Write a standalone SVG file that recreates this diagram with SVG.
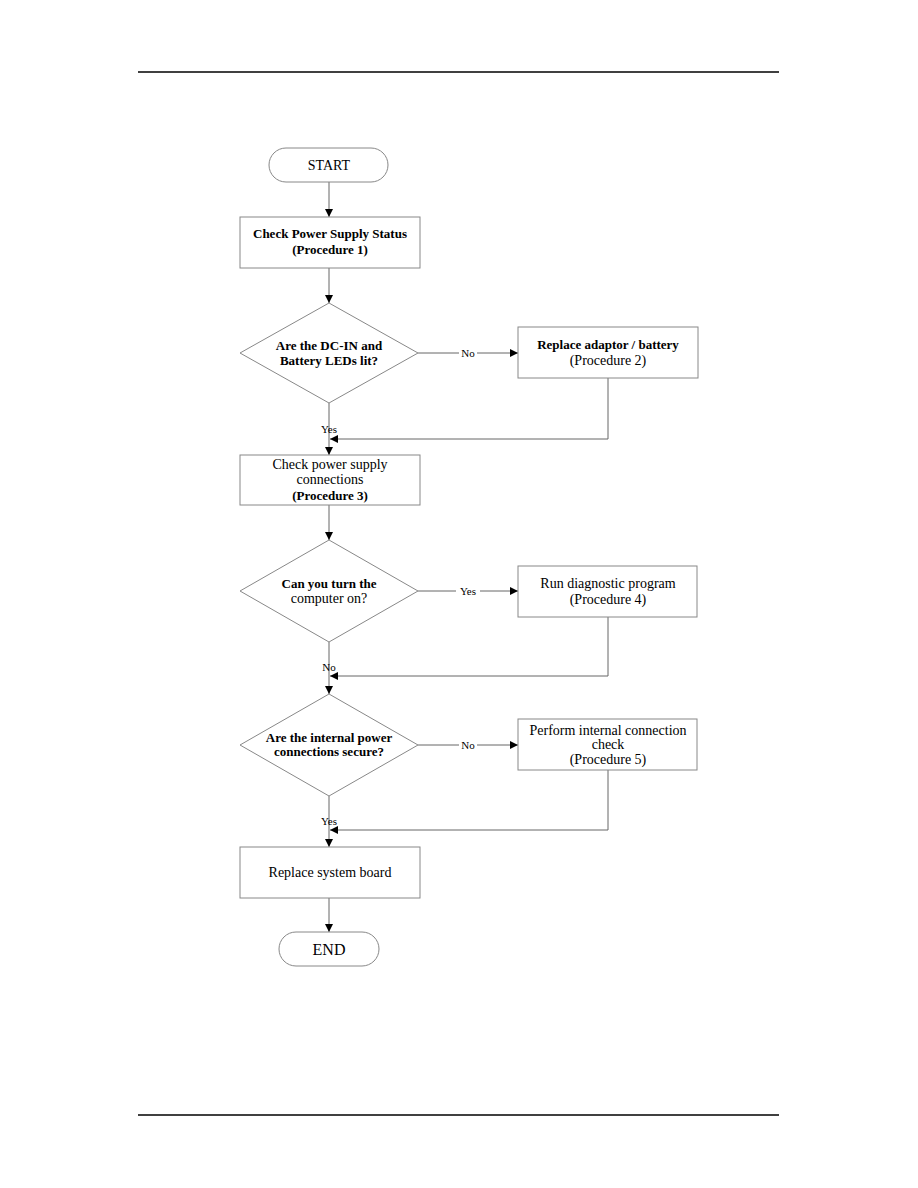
<svg xmlns="http://www.w3.org/2000/svg" width="918" height="1188" viewBox="0 0 918 1188">
<defs>
<marker id="arr" viewBox="0 0 10 10" refX="10" refY="5" markerWidth="8" markerHeight="8" markerUnits="userSpaceOnUse" orient="auto">
<path d="M0,0 L10,5 L0,10 z" fill="#000"/>
</marker>
</defs>
<style>
.shape{fill:#fff;stroke:#888;stroke-width:1}
.t{font-family:"Liberation Serif","Times New Roman",serif;font-size:14px;fill:#000;text-anchor:middle}
.b{font-weight:bold;font-size:13px}
.lbl{font-family:"Liberation Serif","Times New Roman",serif;font-size:11px;fill:#000;text-anchor:middle}
.c{fill:none;stroke:#666;stroke-width:1}
.rule{stroke:#000;stroke-width:1.5}
</style>
<rect width="918" height="1188" fill="#fff"/>
<line class="rule" x1="138" y1="72" x2="779" y2="72"/>
<line class="rule" x1="138" y1="1115" x2="779" y2="1115"/>

<g id="connectors">
<line class="c" x1="329" y1="182" x2="329" y2="217" marker-end="url(#arr)"/>
<line class="c" x1="329" y1="268" x2="329" y2="303" marker-end="url(#arr)"/>
<line class="c" x1="418" y1="353" x2="518" y2="353" marker-end="url(#arr)"/>
<line class="c" x1="329" y1="403" x2="329" y2="455" marker-end="url(#arr)"/>
<polyline class="c" points="608,378 608,439 330,439" marker-end="url(#arr)"/>
<line class="c" x1="329" y1="505" x2="329" y2="540" marker-end="url(#arr)"/>
<line class="c" x1="418" y1="591" x2="518" y2="591" marker-end="url(#arr)"/>
<line class="c" x1="329" y1="642" x2="329" y2="694" marker-end="url(#arr)"/>
<polyline class="c" points="608,617 608,676 330,676" marker-end="url(#arr)"/>
<line class="c" x1="418" y1="745" x2="518" y2="745" marker-end="url(#arr)"/>
<line class="c" x1="329" y1="796" x2="329" y2="847" marker-end="url(#arr)"/>
<polyline class="c" points="608,770 608,830 330,830" marker-end="url(#arr)"/>
<line class="c" x1="329" y1="898" x2="329" y2="932" marker-end="url(#arr)"/>
<rect x="459" y="346" width="18" height="13" fill="#fff"/>
<text class="lbl" x="468" y="357">No</text>
<text class="lbl" x="329" y="433">Yes</text>
<rect x="456" y="584" width="24" height="13" fill="#fff"/>
<text class="lbl" x="468" y="595">Yes</text>
<text class="lbl" x="329" y="671">No</text>
<rect x="459" y="738" width="18" height="13" fill="#fff"/>
<text class="lbl" x="468" y="749">No</text>
<text class="lbl" x="329" y="825">Yes</text>
</g>

<g id="start">
<rect class="shape" x="269" y="148" width="119" height="34" rx="17" ry="17"/>
<text class="t" x="329" y="170">START</text>
</g>
<g id="proc1">
<rect class="shape" x="240" y="217" width="180" height="51"/>
<text class="t b" x="330" y="238">Check Power Supply Status</text>
<text class="t b" x="330" y="254">(Procedure 1)</text>
</g>
<g id="dec1">
<polygon class="shape" points="329,303 418,353 329,403 240,353"/>
<text class="t b" x="329" y="350">Are the DC-IN and</text>
<text class="t b" x="329" y="365">Battery LEDs lit?</text>
</g>
<g id="proc2">
<rect class="shape" x="518" y="327" width="180" height="51"/>
<text class="t b" x="608" y="349">Replace adaptor / battery</text>
<text class="t" x="608" y="365">(Procedure 2)</text>
</g>
<g id="proc3">
<rect class="shape" x="240" y="455" width="180" height="50"/>
<text class="t" x="330" y="469">Check power supply</text>
<text class="t" x="330" y="484">connections</text>
<text class="t b" x="330" y="500">(Procedure 3)</text>
</g>
<g id="dec2">
<polygon class="shape" points="329,540 418,591 329,642 240,591"/>
<text class="t b" x="329" y="588">Can you turn the</text>
<text class="t" x="329" y="603">computer on?</text>
</g>
<g id="proc4">
<rect class="shape" x="518" y="566" width="179" height="51"/>
<text class="t" x="608" y="588">Run diagnostic program</text>
<text class="t" x="608" y="604">(Procedure 4)</text>
</g>
<g id="dec3">
<polygon class="shape" points="329,694 418,745 329,796 240,745"/>
<text class="t b" x="329" y="742">Are the internal power</text>
<text class="t b" x="329" y="756">connections secure?</text>
</g>
<g id="proc5">
<rect class="shape" x="518" y="719" width="179" height="51"/>
<text class="t" x="608" y="735">Perform internal connection</text>
<text class="t" x="608" y="749">check</text>
<text class="t" x="608" y="764">(Procedure 5)</text>
</g>
<g id="proc6">
<rect class="shape" x="240" y="847" width="180" height="51"/>
<text class="t" x="330" y="877">Replace system board</text>
</g>
<g id="end">
<rect class="shape" x="279" y="932" width="100" height="34" rx="17" ry="17"/>
<text class="t" x="329" y="955" style="font-size:16px">END</text>
</g>
</svg>
